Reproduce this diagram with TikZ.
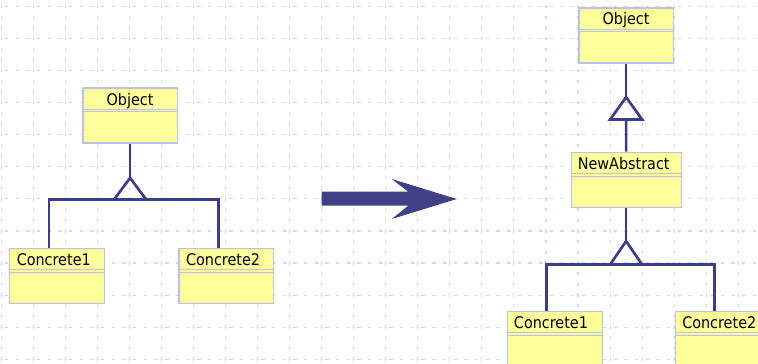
\documentclass[tikz,border=0pt]{standalone}
\usepackage{fontspec}
\setmainfont{DejaVu Sans Condensed}
\usetikzlibrary{calc}

\definecolor{gridblue}{RGB}{208,216,250}
\definecolor{boxline}{RGB}{186,194,236}
\definecolor{boxfill}{RGB}{255,255,153}
\definecolor{connblue}{RGB}{60,60,140}
\definecolor{arrowblue}{RGB}{64,64,136}

\tikzset{
  gridline/.style={draw=gridblue, line width=0.8pt, dash pattern=on 2.5pt off 5.51pt},
  umlbox/.style={rectangle, draw=boxline, fill=boxfill, line width=0.9pt, inner sep=0pt,
    minimum height=41.25pt, anchor=north west},
  boxsep/.style={draw=boxline, line width=0.75pt},
  classname/.style={inner sep=0pt, font=\fontsize{12}{14}\selectfont, text=black},
  conn/.style={draw=connblue, line width=2pt},
  bigarrow/.style={fill=arrowblue, draw=none}
}

% class box: name, top-left corner, width
\newcommand{\umlclass}[3]{%
  \node[umlbox, minimum width=#3] (#1) at (#2) {};
  \draw[boxsep] ($(#1.north west)+(0,21.7)$) -- ($(#1.north east)+(0,21.7)$);
  \draw[boxsep] ($(#1.north west)+(0,24.4)$) -- ($(#1.north east)+(0,24.4)$);
}

\begin{document}
\begin{tikzpicture}[x=0.75pt, y=-0.75pt]
  \useasboundingbox (0,0) rectangle (758,364);
  \clip (0,0) rectangle (758,364);

  % background grid
  \foreach \k in {0,...,23}
    \draw[gridline, dash phase=4.28pt] ({1.3+32.04*\k},0) -- ({1.3+32.04*\k},364);
  \foreach \k in {0,...,11}
    \draw[gridline, dash phase=4.28pt] (0,{6.7+32.04*\k}) -- (758,{6.7+32.04*\k});

  % ---- left: two concrete classes under Object ----
  \umlclass{objL}{82.3,87.3}{70.8pt}
  \umlclass{concAL}{9,247.7}{71.3pt}
  \umlclass{concBL}{178.3,247.7}{71pt}
  \node[classname, anchor=base] (objLt) at ($(objL.north)+(0,17.7)$) {Object};
  \node[classname, anchor=base west] (concALt) at ($(concAL.north west)+(7.5,17.7)$) {Concrete1};
  \node[classname, anchor=base west] (concBLt) at ($(concBL.north west)+(7.5,17.7)$) {Concrete2};

  \coordinate (apexL) at ($(objL.south)+(0,34.4)$);
  \coordinate (baseL) at ($(apexL)+(0,21.6)$);
  \coordinate (jAL) at ($(concAL.north)+(-8,0)$);
  \coordinate (jBL) at ($(concBL.north)+(-8,0)$);
  \draw[conn] (objL.south) -- (apexL);
  \draw[conn, line join=miter] (apexL) -- ($(baseL)+(-16,0)$) -- ($(baseL)+(16,0)$) -- cycle;
  \draw[conn] (jAL) -- (jAL |- baseL) -- (jBL |- baseL) -- (jBL);

  % ---- transformation arrow ----
  \fill[bigarrow] (321.7,191.7) -- (408.3,191.7) -- (391.7,179) -- (456.7,199)
    -- (391.7,219) -- (408.3,205.7) -- (321.7,205.7) -- cycle;

  % ---- right: NewAbstract inserted between ----
  \umlclass{objR}{578.3,7.3}{70.8pt}
  \umlclass{absR}{570.5,151.7}{82.5pt}
  \umlclass{concAR}{506.7,310.7}{71.3pt}
  \umlclass{concBR}{675,310.7}{71.3pt}
  \node[classname, anchor=base] (objRt) at ($(objR.north)+(0,17.7)$) {Object};
  \node[classname, anchor=base west] (absRt) at ($(absR.north west)+(7,17.7)$) {NewAbstract};
  \node[classname, anchor=base west] (concARt) at ($(concAR.north west)+(7,17.7)$) {Concrete1};
  \node[classname, anchor=base west] (concBRt) at ($(concBR.north west)+(7,17.7)$) {Concrete2};

  \coordinate (apexR) at ($(objR.south)+(0,33.7)$);
  \coordinate (baseR) at ($(apexR)+(0,22.3)$);
  \draw[conn] (objR.south) -- (apexR);
  \draw[conn, line join=miter] (apexR) -- ($(baseR)+(-16,0)$) -- ($(baseR)+(16,0)$) -- cycle;
  \draw[conn] (baseR) -- (absR.north);

  \coordinate (apexR2) at ($(absR.south)+(0,33.3)$);
  \coordinate (baseR2) at ($(apexR2)+(0,23.4)$);
  \coordinate (jAR) at ($(concAR.north)+(-8.3,0)$);
  \coordinate (jBR) at ($(concBR.north)+(-8.8,0)$);
  \draw[conn] (absR.south) -- (apexR2);
  \draw[conn, line join=miter] (apexR2) -- ($(baseR2)+(-16,0)$) -- ($(baseR2)+(16,0)$) -- cycle;
  \draw[conn] (jAR) -- (jAR |- baseR2) -- (jBR |- baseR2) -- (jBR);
\end{tikzpicture}
\end{document}
